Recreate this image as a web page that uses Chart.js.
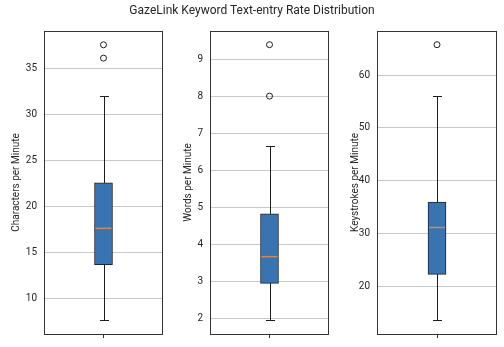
<!DOCTYPE html>
<html>
<head>
<meta charset="utf-8">
<script src="https://cdn.jsdelivr.net/npm/chart.js@4"></script>
<style>
body { margin: 0; background: #fff; font-family: Roboto, sans-serif; }
#fig { position: relative; width: 504px; height: 347px; overflow: hidden; }
canvas { position: absolute; top: 0; }
#title { position: absolute; top: 3px; left: 0; width: 504px; text-align: center; font-size: 12px; color: #262626; }
</style>
</head>
<body>
<div id="fig">
  <canvas id="p0" width="168" height="347" style="left:0px"></canvas>
  <canvas id="p1" width="166" height="347" style="left:168px"></canvas>
  <canvas id="p2" width="170" height="347" style="left:334px"></canvas>
  <div id="title">GazeLink Keyword Text-entry Rate Distribution</div>
</div>
<script>
// one box per panel
const metrics = ['Characters per Minute', 'Words per Minute', 'Keystrokes per Minute'];
const whiskerLow = [7.66, 1.94, 13.5];
const q1 = [13.7, 2.94, 22.2];
const median = [17.65, 3.66, 31.1];
const q3 = [22.6, 4.82, 35.9];
const whiskerHigh = [32.05, 6.66, 56.05];
const outliers = [[37.6, 36.15], [9.39, 8.0], [65.75]];
const tickStep = [5, 1, 10];
const yMin = [6.16, 1.57, 10.9];
const yMax = [39.1, 9.76, 68.35];

// layout of each canvas
const axisWidth = [44, 42, 43];
const padRight = [4, 4, 7];
const titlePad = [10, 14, 15];

const boxParts = {
  id: 'boxParts',
  beforeDatasetsDraw(chart) {
    const i = chart.options.plugins.boxParts.index;
    const y = chart.scales.y;
    const bar = chart.getDatasetMeta(0).data[0];
    const cx = Math.round(bar.x) + 0.5;
    const ctx = chart.ctx;
    ctx.save();
    ctx.strokeStyle = '#1e1e1e';
    ctx.lineWidth = 1;
    ctx.beginPath();
    const lo = Math.round(y.getPixelForValue(whiskerLow[i])) + 0.5;
    const hi = Math.round(y.getPixelForValue(whiskerHigh[i])) + 0.5;
    ctx.moveTo(cx, lo); ctx.lineTo(cx, hi);
    ctx.moveTo(cx - 4.5, lo); ctx.lineTo(cx + 4.5, lo);
    ctx.moveTo(cx - 4.5, hi); ctx.lineTo(cx + 4.5, hi);
    ctx.stroke();
    ctx.restore();
  },
  afterDatasetsDraw(chart) {
    const i = chart.options.plugins.boxParts.index;
    const y = chart.scales.y;
    const bar = chart.getDatasetMeta(0).data[0];
    const ctx = chart.ctx;
    const a = chart.chartArea;
    ctx.save();
    ctx.strokeStyle = '#c98b5b';
    ctx.lineWidth = 1.5;
    const my = y.getPixelForValue(median[i]);
    ctx.beginPath();
    ctx.moveTo(bar.x - bar.width / 2 + 1, my);
    ctx.lineTo(bar.x + bar.width / 2 - 1, my);
    ctx.stroke();
    ctx.strokeStyle = '#333';
    ctx.lineWidth = 1;
    ctx.strokeRect(Math.round(a.left) + 0.5, Math.round(a.top) + 0.5,
      Math.round(a.right - a.left) - 1, Math.round(a.bottom - a.top));
    ctx.restore();
  }
};

metrics.forEach(function(name, i) {
  new Chart(document.getElementById('p' + i), {
    type: 'bar',
    data: {
      labels: ['1'],
      datasets: [
        {
          data: [[q1[i], q3[i]]],
          backgroundColor: '#3a74b0',
          borderColor: '#1b2533',
          borderWidth: 1,
          borderSkipped: false,
          barThickness: 18
        },
        {
          type: 'line',
          showLine: false,
          data: outliers[i].map(function(v) { return { x: '1', y: v }; }),
          pointRadius: 3,
          pointBorderWidth: 1,
          pointBorderColor: '#1e1e1e',
          pointBackgroundColor: 'rgba(0,0,0,0)'
        }
      ]
    },
    options: {
      responsive: false,
      animation: false,
      layout: { padding: { top: 31, right: padRight[i], left: 0, bottom: 0 } },
      plugins: {
        legend: { display: false },
        tooltip: { enabled: false },
        boxParts: { index: i }
      },
      scales: {
        x: {
          grid: { drawOnChartArea: false, drawTicks: true, tickLength: 4, offset: false, color: '#333' },
          border: { display: false },
          ticks: { callback: function() { return ''; } },
          afterFit: function(s) { s.height = 11; }
        },
        y: {
          min: yMin[i],
          max: yMax[i],
          ticks: {
            stepSize: tickStep[i],
            padding: 7,
            color: '#262626',
            font: { family: 'Roboto', size: 10 }
          },
          afterBuildTicks: function(s) {
            const st = tickStep[i];
            s.ticks = s.ticks.filter(function(t) {
              return Math.abs(t.value / st - Math.round(t.value / st)) < 1e-6;
            });
          },
          grid: { color: '#c8c8c8', drawTicks: false },
          border: { display: false },
          title: {
            display: true,
            text: name,
            color: '#262626',
            font: { family: 'Roboto', size: 10 },
            padding: { top: titlePad[i], bottom: 0 }
          },
          afterFit: function(s) { s.width = axisWidth[i]; }
        }
      }
    },
    plugins: [boxParts]
  });
});
</script>
</body>
</html>
